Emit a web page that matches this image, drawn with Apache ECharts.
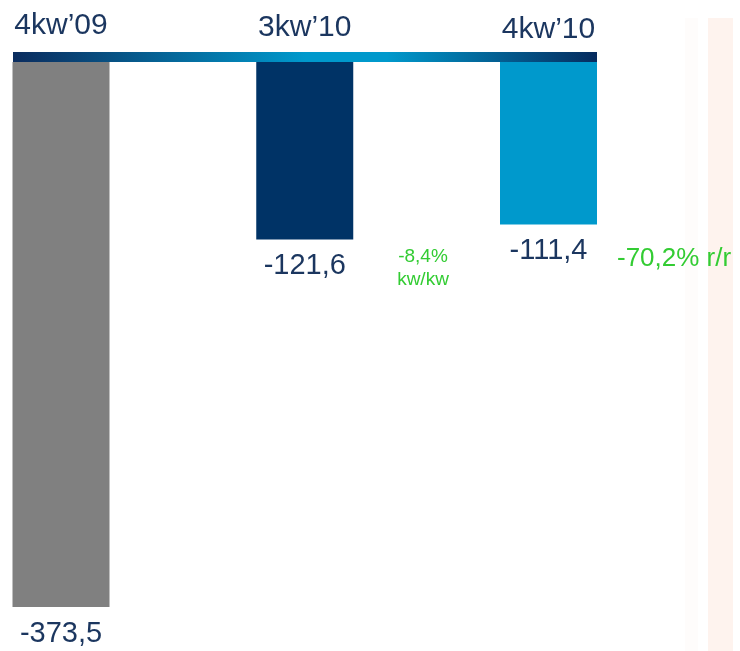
<!DOCTYPE html>
<html>
<head>
<meta charset="utf-8">
<script src="https://cdn.jsdelivr.net/npm/echarts@6/dist/echarts.min.js"></script>
<style>
  html, body { margin: 0; padding: 0; background: #fff; }
  #chart { width: 740px; height: 651px; }
</style>
</head>
<body>
<div id="chart"></div>
<script>
// quarters and results (negative values hang from the top axis)
var quarters = ["4kw\u201909", "3kw\u201910", "4kw\u201910"];
var values = [-373.5, -121.6, -111.4];
var barColors = ["#808080", "#003366", "#0099cc"];
var changeQoQ = ["-8,4%", "kw/kw"];
var changeYoY = "-70,2% r/r";

var navy = "#1b365f";
var green = "#33cc33";

var chart = echarts.init(document.getElementById("chart"));

function fmt(v) {
    return String(v).replace(".", ",");
}

chart.setOption({
    animation: false,
    grid: { left: 61, right: 191.5, top: 62, bottom: 44 },
    xAxis: {
        type: "category",
        position: "top",
        boundaryGap: false,
        data: quarters,
        axisLine: { show: false },
        axisTick: { show: false },
        axisLabel: {
            margin: 17,
            fontFamily: "Liberation Sans, Arial, sans-serif",
            fontSize: 30,
            color: navy,
            formatter: function (v, i) {
                return "{q" + i + "|" + v + "}";
            },
            rich: {
                q0: { padding: [0, 0, 4, 0] },
                q1: { padding: [0, 0, 2, 0] },
                q2: { padding: [0, 0, 0, 0] }
            }
        },
        splitLine: { show: false }
    },
    yAxis: {
        type: "value",
        min: -373.5,
        max: 0,
        show: false
    },
    graphic: [
        {
            type: "rect",
            shape: { x: 685, y: 18, width: 13, height: 633 },
            style: { fill: "#fefcfb" },
            silent: true
        },
        {
            type: "rect",
            shape: { x: 708, y: 18, width: 25, height: 633 },
            style: { fill: "#fef3ee" },
            silent: true
        },
        {
            type: "rect",
            shape: { x: 13, y: 52, width: 584, height: 10 },
            style: {
                fill: new echarts.graphic.LinearGradient(0, 0, 1, 0, [
                    { offset: 0, color: "#0b2c5e" },
                    { offset: 0.5, color: "#0099cc" },
                    { offset: 0.64, color: "#0099cc" },
                    { offset: 1, color: "#062b5e" }
                ])
            },
            z: 10,
            silent: true
        },
        {
            type: "text",
            x: 423,
            y: 268,
            style: {
                text: changeQoQ.join("\n"),
                fill: green,
                fontFamily: "Liberation Sans, Arial, sans-serif",
                fontSize: 19,
                lineHeight: 23,
                align: "center",
                verticalAlign: "middle"
            },
            z: 10
        },
        {
            type: "text",
            x: 617,
            y: 259,
            style: {
                text: changeYoY,
                fill: green,
                fontFamily: "Liberation Sans, Arial, sans-serif",
                fontSize: 26,
                align: "left",
                verticalAlign: "middle"
            },
            z: 10
        }
    ],
    series: [
        {
            type: "bar",
            barWidth: 97,
            clip: false,
            data: values.map(function (v, i) {
                return { value: v, itemStyle: { color: barColors[i] } };
            }),
            label: {
                show: true,
                position: "bottom",
                distance: 12,
                fontFamily: "Liberation Sans, Arial, sans-serif",
                fontSize: 29,
                color: navy,
                formatter: function (p) {
                    return fmt(p.value);
                }
            }
        }
    ]
});
</script>
</body>
</html>
